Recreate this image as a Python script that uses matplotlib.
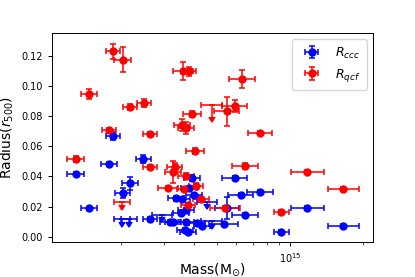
import numpy as np
import matplotlib
matplotlib.use("Agg")
import matplotlib.pyplot as plt

# masses in units of 1e14 Msun, radii in r500, mass errors in dex
red_mass = [1.29, 1.47, 1.77, 1.85, 2.02, 2.17, 2.47, 2.62, 2.62, 3.28, 3.32, 3.13,
            3.55, 3.70, 3.61, 3.82, 3.92, 4.03, 3.72, 4.09, 3.63, 3.79, 4.27, 5.37,
            5.46, 5.91, 6.32, 6.50, 7.51, 9.22, 11.8, 16.65]
red_r = [0.0515, 0.0945, 0.0707, 0.1228, 0.1172, 0.0857, 0.0887, 0.0680, 0.0460, 0.0430,
         0.0464, 0.0321, 0.0742, 0.0718, 0.1100, 0.1095, 0.0815, 0.0570, 0.0405, 0.0338,
         0.0313, 0.0210, 0.0253, 0.0192, 0.0830, 0.0868, 0.1044, 0.0468, 0.0690, 0.0162,
         0.0428, 0.0318]
red_mdex = [0.037, 0.033, 0.029, 0.029, 0.037, 0.029, 0.029, 0.029, 0.029, 0.033, 0.033,
            0.042, 0.033, 0.033, 0.042, 0.029, 0.037, 0.037, 0.033, 0.029, 0.029, 0.029,
            0.033, 0.062, 0.052, 0.052, 0.054, 0.054, 0.050, 0.033, 0.069, 0.064]
red_rerr = [0.002, 0.0033, 0.0015, 0.005, 0.0083, 0.002, 0.0027, 0.0013, 0.0013, 0.0075,
            0.0027, 0.0013, 0.004, 0.004, 0.006, 0.0033, 0.002, 0.002, 0.002, 0.002,
            0.0013, 0.0013, 0.0013, 0.0013, 0.0093, 0.004, 0.006, 0.002, 0.0013, 0.0013,
            0.0013, 0.0013]

# red upper limits
red_lim_mass = [2.01, 4.73]
red_lim_r = [0.0230, 0.0874]
red_lim_mdex = [0.033, 0.044]
red_lim_len = [0.002, 0.008]

blue_mass = [1.29, 1.47, 1.77, 1.85, 2.02, 2.17, 2.46, 2.62, 3.18, 3.28, 3.36, 3.58,
             3.52, 3.72, 3.70, 3.67, 3.79, 3.82, 3.93, 4.00, 4.11, 4.32, 5.30, 5.46,
             5.91, 6.26, 6.50, 7.51, 9.22, 11.8, 16.65]
blue_r = [0.0413, 0.0187, 0.0479, 0.0665, 0.0289, 0.0354, 0.0513, 0.0115, 0.0095, 0.0097,
          0.0256, 0.0253, 0.0160, 0.0174, 0.0097, 0.0046, 0.0028, 0.0322, 0.0387, 0.0276,
          0.0094, 0.0071, 0.0083, 0.0190, 0.0387, 0.0274, 0.0147, 0.0294, 0.0034, 0.0193,
          0.0072]
blue_mdex = [0.037, 0.033, 0.033, 0.029, 0.033, 0.033, 0.031, 0.029, 0.042, 0.033, 0.033,
             0.033, 0.033, 0.033, 0.033, 0.033, 0.033, 0.033, 0.033, 0.033, 0.033, 0.033,
             0.062, 0.050, 0.052, 0.052, 0.054, 0.052, 0.033, 0.069, 0.064]
blue_rerr = [0.0013, 0.0013, 0.0013, 0.0027, 0.0033, 0.0044, 0.0027, 0.0013, 0.0013, 0.0013,
             0.0013, 0.0013, 0.0013, 0.0013, 0.0013, 0.0013, 0.0013, 0.0013, 0.002, 0.0013,
             0.0013, 0.0013, 0.0013, 0.0070, 0.0013, 0.0013, 0.0013, 0.0013, 0.0013, 0.0013,
             0.0013]

# blue upper limits
blue_lim_mass = [2.01, 2.15, 2.95, 4.54, 4.73]
blue_lim_r = [0.0115, 0.0115, 0.0144, 0.0233, 0.0101]
blue_lim_mdex = [0.033, 0.033, 0.042, 0.042, 0.042]
blue_lim_len = [0.0015, 0.0015, 0.0015, 0.0015, 0.0015]


def mass_err(m, dex):
    m = np.array(m) * 1e14
    d = np.array(dex)
    return m, [m - m * 10 ** (-d), m * 10 ** d - m]


fig = plt.figure(figsize=(4.15, 2.77), dpi=100)
ax = fig.add_axes([52 / 415, 1 - 242 / 277, 321 / 415, 209 / 277])

style = dict(fmt='o', markersize=5, elinewidth=1.1, capsize=2, capthick=1.1)

m, xe = mass_err(blue_mass, blue_mdex)
ax.errorbar(m, blue_r, xerr=xe, yerr=blue_rerr, color='blue', label='$R_{ccc}$', **style)
m, xe = mass_err(blue_lim_mass, blue_lim_mdex)
ax.errorbar(m, blue_lim_r, xerr=xe, yerr=blue_lim_len, uplims=True, fmt='none',
            color='blue', elinewidth=1.1, capsize=2.5, capthick=1.1)

m, xe = mass_err(red_mass, red_mdex)
ax.errorbar(m, red_r, xerr=xe, yerr=red_rerr, color='red', label='$R_{qcf}$', **style)
m, xe = mass_err(red_lim_mass, red_lim_mdex)
ax.errorbar(m, red_lim_r, xerr=xe, yerr=red_lim_len, uplims=True, fmt='none',
            color='red', elinewidth=1.1, capsize=2.5, capthick=1.1)

ax.set_xscale('log')
ax.set_xlim(1.03e14, 2.21e15)
ax.set_ylim(-0.0035, 0.135)
ax.set_yticks([0.0, 0.02, 0.04, 0.06, 0.08, 0.10, 0.12])
ax.tick_params(labelsize=7, width=0.7, length=3)
ax.tick_params(which='minor', width=0.5, length=2)
for s in ax.spines.values():
    s.set_linewidth(0.7)

ax.set_xlabel(r'Mass(M$_{\odot}$)', fontsize=10)
ax.xaxis.set_label_coords(0.5, -0.09)
ax.set_ylabel(r'Radius($r_{500}$)', fontsize=10)
ax.legend(loc='upper right', fontsize=9, borderpad=0.5, handlelength=2.2)

fig.savefig('out.png', dpi=100)
